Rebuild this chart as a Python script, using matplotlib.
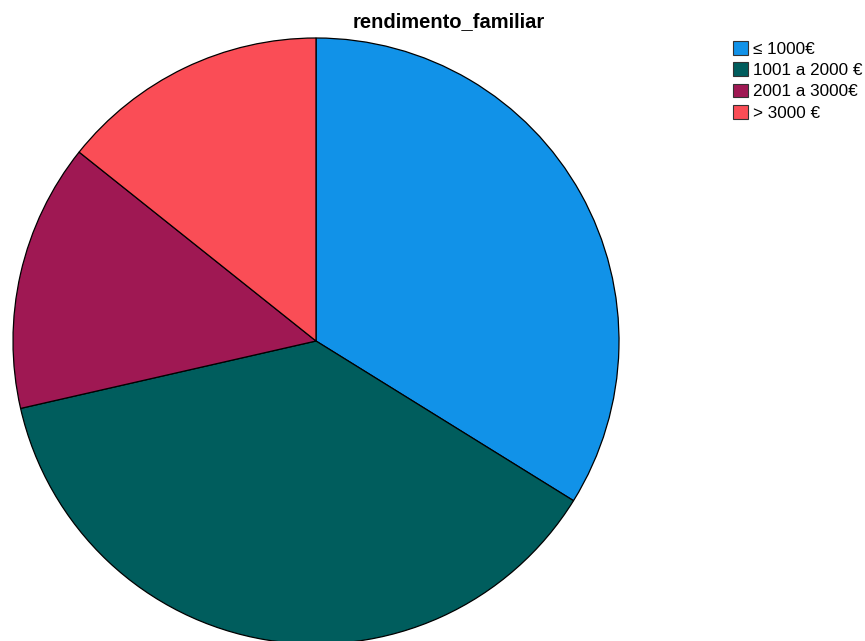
import matplotlib.pyplot as plt
from matplotlib.patches import Patch

plt.rcParams['font.family'] = ['Liberation Sans', 'DejaVu Sans']

categories = ["≤ 1000€", "1001 a 2000 €", "2001 a 3000€", "> 3000 €"]
counts = [45, 50, 19, 19]
colors = ["#1192E8", "#005D5D", "#9F1853", "#FA4D56"]

W, H = 865, 641
fig = plt.figure(figsize=(W / 100, H / 100), dpi=100)

# pie centred at (316, 341) px with radius 303 px
cx, cy, r = 316, 341, 303
ax = fig.add_axes([(cx - r) / W, (H - cy - r) / H, 2 * r / W, 2 * r / H])
ax.pie(counts, colors=colors, startangle=90, counterclock=False, radius=1,
       wedgeprops=dict(edgecolor="black", linewidth=0.9))
ax.set_xlim(-1, 1)
ax.set_ylim(-1, 1)
ax.set_aspect("auto")
ax.axis("off")

fig.text(449 / W, 1 - 22 / H, "rendimento_familiar", ha="center", va="center",
         fontsize=14.5, fontweight="bold")

handles = [Patch(facecolor=c, edgecolor="#333333", linewidth=0.8) for c in colors]
fig.legend(handles, categories, loc="upper left",
           bbox_to_anchor=(733 / W, 1 - 41 / H), frameon=False,
           fontsize=12.3, handlelength=0.85, handleheight=0.85,
           handletextpad=0.3, labelspacing=0.33, borderpad=0, borderaxespad=0)

fig.savefig("out.png", dpi=100)
